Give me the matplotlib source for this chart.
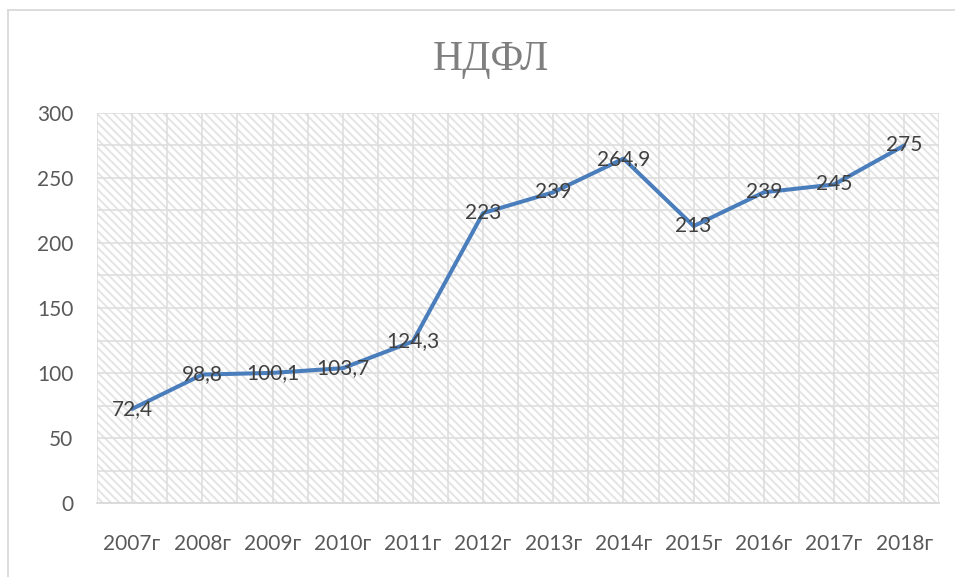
import matplotlib
matplotlib.use("Agg")
import matplotlib.pyplot as plt
from matplotlib.patches import Rectangle
from matplotlib.lines import Line2D
from matplotlib.ticker import MultipleLocator

years = ["2007г", "2008г", "2009г", "2010г", "2011г", "2012г",
         "2013г", "2014г", "2015г", "2016г", "2017г", "2018г"]
values = [72.4, 98.8, 100.1, 103.7, 124.3, 223, 239, 264.9, 213, 239, 245, 275]
labels = ["72,4", "98,8", "100,1", "103,7", "124,3", "223",
          "239", "264,9", "213", "239", "245", "275"]

plt.rcParams['font.family'] = ['Lato', 'DejaVu Sans']
plt.rcParams['hatch.color'] = '#e4e4e4'
plt.rcParams['hatch.linewidth'] = 1.4

fig = plt.figure(figsize=(9.55, 5.77), dpi=100)
ax = fig.add_axes([0.1016, 0.1282, 0.882, 0.676])

x = list(range(len(years)))
ax.plot(x, values, color='#4a7dbb', lw=2.9, solid_capstyle='round', zorder=3)
for xi, v, s in zip(x, values, labels):
    ax.text(xi, v, s, ha='center', va='center', fontsize=15, color='#404040', zorder=4)

# hatched plot area
ax.add_patch(Rectangle((0, 0), 1, 1, transform=ax.transAxes, facecolor='white',
                       edgecolor='#e4e4e4', hatch='\\\\\\\\', lw=0, zorder=0))

ax.set_xlim(-0.5, 11.5)
ax.set_ylim(0, 300)
ax.set_xticks(x)
ax.set_xticklabels(years)
ax.set_xticks([i - 0.5 for i in range(13)], minor=True)
ax.yaxis.set_major_locator(MultipleLocator(50))
ax.yaxis.set_minor_locator(MultipleLocator(25))

ax.grid(True, which='both', color='#dedede', lw=1.2, zorder=1)
ax.set_axisbelow(True)
ax.tick_params(which='both', length=0)
ax.tick_params(axis='x', pad=22, labelsize=15, labelcolor='#595959')
ax.tick_params(axis='y', pad=17, labelsize=15, labelcolor='#595959')

for side in ['top', 'right', 'left']:
    ax.spines[side].set_visible(False)
ax.spines['bottom'].set_color('#d9d9d9')
ax.spines['bottom'].set_linewidth(1.3)

fig.text(0.514, 0.897, "НДФЛ", ha='center', va='center', fontsize=30,
         color='#7f7f7f', family='Liberation Serif')

# chart frame
fig.add_artist(Line2D([0.0084, 1.0], [0.9827, 0.9827], color='#d9d9d9', lw=1.3))
fig.add_artist(Line2D([0.0084, 0.0084], [0.0, 0.9827], color='#d9d9d9', lw=1.3))

fig.savefig("out.png", dpi=100)
